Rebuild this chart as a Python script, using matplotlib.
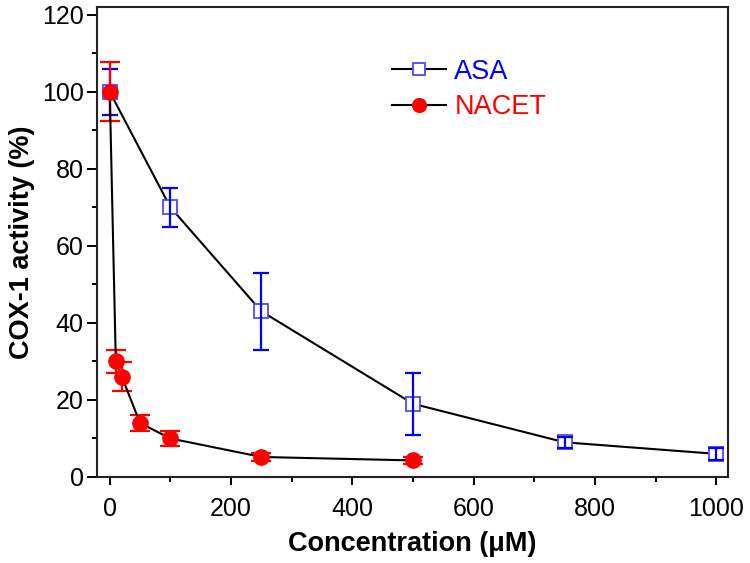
import numpy as np
import matplotlib
matplotlib.use('Agg')
import matplotlib.pyplot as plt
from matplotlib.ticker import MultipleLocator

# data
asa_x = [0, 100, 250, 500, 750, 1000]
asa_y = [100, 70, 43, 19, 9, 6]
asa_err = [6, 5, 10, 8, 1.5, 1.5]

nacet_x = [0, 10, 20, 50, 100, 250, 500]
nacet_y = [100, 30, 26, 14, 10, 5.2, 4.3]
nacet_err = [7.7, 3, 3.8, 2, 2, 1, 1]

plt.rcParams['font.family'] = ['Liberation Sans', 'DejaVu Sans']

fig = plt.figure(figsize=(7.5, 5.63), dpi=100)
ax = fig.add_axes([97/750, 1 - 477/563, 631/750, 470/563])

# ASA
ax.errorbar(asa_x, asa_y, yerr=asa_err, fmt='none', ecolor='#0000ff',
            elinewidth=1.6, capsize=6, capthick=1.6, zorder=4)
ax.plot(asa_x, asa_y, color='black', lw=1.5, marker='s', ms=10,
        mfc='white', mec='#4a4aff', mew=1.3, label='ASA', zorder=3)

# NACET
ax.errorbar(nacet_x, nacet_y, yerr=nacet_err, fmt='none', ecolor='#ff0000',
            elinewidth=1.6, capsize=7, capthick=1.6, zorder=5)
ax.plot(nacet_x, nacet_y, color='black', lw=1.5, marker='o', ms=11,
        mfc='#ff0000', mec='#ff0000', label='NACET', zorder=6)

ax.set_xlim(-21, 1019)
ax.set_ylim(0, 122)
ax.xaxis.set_major_locator(MultipleLocator(200))
ax.xaxis.set_minor_locator(MultipleLocator(100))
ax.yaxis.set_major_locator(MultipleLocator(20))
ax.yaxis.set_minor_locator(MultipleLocator(10))
ax.tick_params(which='major', direction='out', length=6, width=1.4, labelsize=18)
ax.tick_params(which='minor', direction='out', length=3.5, width=1.4)
ax.tick_params(axis='x', which='major', pad=8.5)
ax.tick_params(axis='y', which='major', length=7, pad=2.5)
for s in ax.spines.values():
    s.set_linewidth(1.5)
    s.set_color('#222222')

ax.set_xlabel('Concentration (μM)', fontsize=19.5, fontweight='bold', labelpad=7)
ax.set_ylabel('COX-1 activity (%)', fontsize=19.5, fontweight='bold', labelpad=5)

leg = ax.legend(loc='upper left', bbox_to_anchor=(0.4675, 0.89), frameon=False,
                fontsize=19.5, borderpad=0, borderaxespad=0, handlelength=2.0,
                handletextpad=0.3, labelspacing=0.35, markerscale=0.9)
for t, c in zip(leg.get_texts(), ['#0000ff', '#ff0000']):
    t.set_color(c)

fig.savefig('out.png', dpi=100)
